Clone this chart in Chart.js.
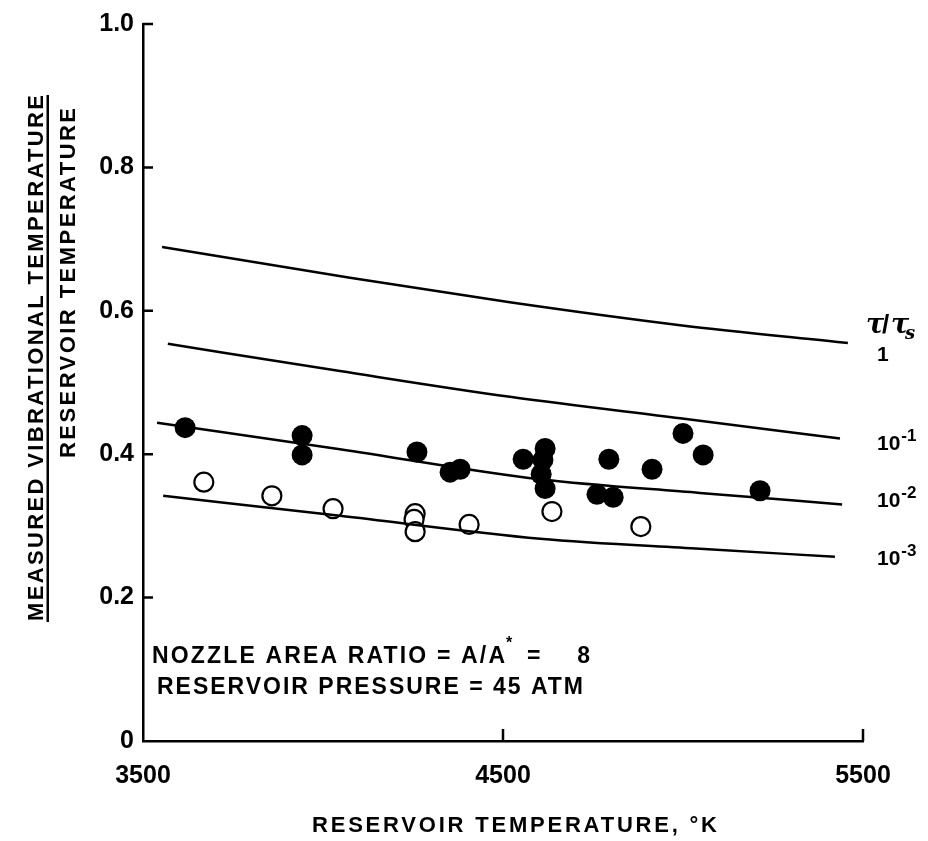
<!DOCTYPE html>
<html>
<head>
<meta charset="utf-8">
<script src="https://cdn.jsdelivr.net/npm/chart.js@4.4.0/dist/chart.umd.min.js"></script>
<style>
  html, body { margin: 0; background: #fff; }
  #wrap { width: 928px; height: 841px; }
</style>
</head>
<body>
<div id="wrap"><canvas id="chart"></canvas></div>
<script>
// ── Data ─────────────────────────────────────────────────────────────────
const filledT = [3617, 3942, 3942, 4261, 4353, 4381, 4556, 4617, 4611, 4606, 4617, 4761, 4806, 4794, 4914, 5000, 5056, 5214];
const filledV = [0.437, 0.426, 0.399, 0.403, 0.375, 0.379, 0.393, 0.408, 0.392, 0.372, 0.352, 0.344, 0.340, 0.393, 0.379, 0.429, 0.399, 0.349];

const openT = [3669, 3858, 4028, 4256, 4253, 4256, 4406, 4636, 4883];
const openV = [0.361, 0.342, 0.324, 0.317, 0.309, 0.292, 0.302, 0.320, 0.299];

// theory curves, tau/tau_s = 1, 1e-1, 1e-2, 1e-3
const curve1T = [3553, 4075, 4519, 4992, 5458];
const curve1V = [0.689, 0.646, 0.612, 0.580, 0.555];
const curve2T = [3569, 4047, 4519, 4992, 5436];
const curve2V = [0.554, 0.516, 0.480, 0.450, 0.422];
const curve3T = [3539, 4047, 4603, 5047, 5442];
const curve3V = [0.444, 0.407, 0.365, 0.346, 0.330];
const curve4T = [3556, 4047, 4603, 5047, 5422];
const curve4V = [0.342, 0.314, 0.282, 0.268, 0.257];

const curveLabels = [
  { base: "1",  exp: "",   v: 0.541 },
  { base: "10", exp: "-1", v: 0.417 },
  { base: "10", exp: "-2", v: 0.338 },
  { base: "10", exp: "-3", v: 0.257 },
];

const xTicks = [3500, 4500, 5500];
const yTicks = [0, 0.2, 0.4, 0.6, 0.8, 1.0];

const FONT = "Liberation Sans, Arial, sans-serif";
const INK = "#000";

const pts = (xs, ys) => xs.map((x, i) => ({ x, y: ys[i] }));

function curve(xs, ys) {
  return {
    type: "line",
    data: pts(xs, ys),
    borderColor: INK,
    borderWidth: 2.5,
    pointRadius: 0,
    fill: false,
    cubicInterpolationMode: "monotone",
  };
}

// text drawn stretched to a given width (the figure uses wide lettering)
function spaced(ctx, text, x, y, width) {
  ctx.letterSpacing = "0px";
  const w0 = ctx.measureText(text).width;
  const s = (width - w0) / (text.length - 1);
  ctx.letterSpacing = s + "px";
  ctx.textAlign = "left";
  ctx.fillText(text, x, y);
  ctx.letterSpacing = "0px";
}

// ── Inward tick marks ──────────────────────────────────────────────────
const inwardTicks = {
  id: "inwardTicks",
  afterDatasetsDraw(chart) {
    const { ctx, chartArea: a, scales: { x, y } } = chart;
    ctx.save();
    ctx.strokeStyle = INK;
    ctx.lineWidth = 2.5;
    ctx.beginPath();
    yTicks.slice(1).forEach(v => {
      const py = y.getPixelForValue(v);
      ctx.moveTo(a.left, py);
      ctx.lineTo(a.left + 10, py);
    });
    xTicks.slice(1).forEach(v => {
      const px = x.getPixelForValue(v);
      ctx.moveTo(px, a.bottom);
      ctx.lineTo(px, a.bottom - 12);
    });
    ctx.stroke();
    ctx.restore();
  },
};

// ── Titles and annotations ─────────────────────────────────────────────
const figureText = {
  id: "figureText",
  afterDraw(chart) {
    const { ctx, chartArea: a, scales: { x, y } } = chart;
    ctx.save();
    ctx.fillStyle = INK;
    ctx.textBaseline = "alphabetic";

    // x-axis title
    ctx.font = `bold 22px ${FONT}`;
    spaced(ctx, "RESERVOIR TEMPERATURE, °K", 312, 832, 405);

    // y-axis title as a fraction
    ctx.save();
    ctx.translate(43, 621);
    ctx.rotate(-Math.PI / 2);
    ctx.font = `bold 22px ${FONT}`;
    spaced(ctx, "MEASURED VIBRATIONAL TEMPERATURE", 0, 0, 526);
    ctx.restore();
    ctx.fillRect(46.5, 95, 2.5, 527);
    ctx.save();
    ctx.translate(75, 458);
    ctx.rotate(-Math.PI / 2);
    ctx.font = `bold 22px ${FONT}`;
    spaced(ctx, "RESERVOIR TEMPERATURE", 0, 0, 350);
    ctx.restore();

    // conditions note
    const nx = x.getPixelForValue(3525);
    ctx.font = `bold 23px ${FONT}`;
    spaced(ctx, "NOZZLE AREA RATIO = A/A", nx, 663, 353);
    ctx.font = `bold 16px ${FONT}`;
    ctx.fillText("*", nx + 354, 648);
    ctx.font = `bold 23px ${FONT}`;
    spaced(ctx, "= 8", nx + 375, 663, 63);
    spaced(ctx, "RESERVOIR PRESSURE = 45 ATM", nx + 5, 694, 426);

    // curve parameter labels
    const lx = a.right + 14;
    ctx.font = `italic bold 27px DejaVu Serif, serif`;
    ctx.textAlign = "left";
    const ty = y.getPixelForValue(0.58) + 8;
    ctx.fillText("τ", a.right + 3, ty);
    ctx.font = `bold 26px ${FONT}`;
    ctx.fillText("/", a.right + 19, ty);
    ctx.font = `italic bold 27px DejaVu Serif, serif`;
    ctx.fillText("τ", a.right + 28, ty);
    ctx.font = `italic bold 18px DejaVu Serif, serif`;
    ctx.fillText("s", a.right + 42, ty + 6);

    curveLabels.forEach(l => {
      const py = y.getPixelForValue(l.v);
      ctx.font = `bold 21px ${FONT}`;
      ctx.fillText(l.base, lx, py + 8);
      if (l.exp) {
        const w = ctx.measureText(l.base).width;
        ctx.font = `bold 17px ${FONT}`;
        ctx.fillText(l.exp, lx + w + 1, py - 1);
      }
    });
    ctx.restore();
  },
};

new Chart(document.getElementById("chart"), {
  type: "scatter",
  data: {
    datasets: [
      curve(curve1T, curve1V),
      curve(curve2T, curve2V),
      curve(curve3T, curve3V),
      curve(curve4T, curve4V),
      {
        data: pts(openT, openV),
        pointRadius: 9.5,
        pointBackgroundColor: "#fff",
        pointBorderColor: INK,
        pointBorderWidth: 2.2,
      },
      {
        data: pts(filledT, filledV),
        pointRadius: 10.5,
        pointBackgroundColor: INK,
        pointBorderColor: INK,
        pointBorderWidth: 0,
      },
    ],
  },
  options: {
    responsive: true,
    maintainAspectRatio: false,
    animation: false,
    devicePixelRatio: 1,
    layout: { padding: { left: 0, top: 18, right: 65, bottom: 0 } },
    plugins: { legend: { display: false }, tooltip: { enabled: false } },
    scales: {
      x: {
        type: "linear",
        min: 3500, max: 5500,
        afterBuildTicks: s => { s.ticks = xTicks.map(v => ({ value: v })); },
        afterFit: s => { s.height = 100; },
        grid: { display: false, drawTicks: false },
        border: { display: true, color: INK, width: 2.5 },
        ticks: {
          color: INK, padding: 20,
          font: { family: FONT, size: 25, weight: "bold" },
          callback: v => String(v),
        },
      },
      y: {
        type: "linear",
        min: 0, max: 1,
        afterBuildTicks: s => { s.ticks = yTicks.map(v => ({ value: v })); },
        afterFit: s => { s.width = 143; },
        grid: { display: false, drawTicks: false },
        border: { display: true, color: INK, width: 2.5 },
        ticks: {
          color: INK, padding: 9,
          font: { family: FONT, size: 25, weight: "bold" },
          callback: v => (v === 0 ? "0" : v.toFixed(1)),
        },
      },
    },
  },
  plugins: [inwardTicks, figureText],
});
</script>
</body>
</html>
